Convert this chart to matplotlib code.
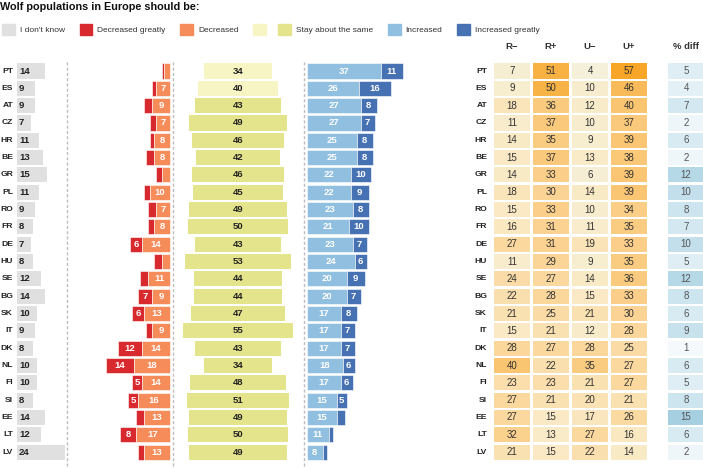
import matplotlib

matplotlib.use("Agg")
import matplotlib.pyplot as plt
from matplotlib.colors import LinearSegmentedColormap, Normalize
from matplotlib.patches import Patch

plt.rcParams["font.family"] = ["Liberation Sans", "DejaVu Sans"]

countries = ["PT", "ES", "AT", "CZ", "HR", "BE", "GR", "PL", "RO", "FR", "DE", "HU",
             "SE", "BG", "SK", "IT", "DK", "NL", "FI", "SI", "EE", "LT", "LV"]
dont_know = [14, 9, 9, 7, 11, 13, 15, 11, 9, 8, 7, 8, 12, 14, 10, 9, 8, 10, 10, 8, 14, 12, 24]
dec_greatly = [1, 2, 4, 3, 2, 4, 3, 3, 4, 3, 6, 4, 4, 7, 6, 3, 12, 14, 5, 5, 4, 8, 3]
decreased = [3, 7, 9, 7, 8, 8, 4, 10, 7, 8, 14, 4, 11, 9, 13, 9, 14, 18, 14, 16, 13, 17, 13]
same = [34, 40, 43, 49, 46, 42, 46, 45, 49, 50, 43, 53, 44, 44, 47, 55, 43, 34, 48, 51, 49, 50, 49]
increased = [37, 26, 27, 27, 25, 25, 22, 22, 23, 21, 23, 24, 20, 20, 17, 17, 17, 18, 17, 15, 15, 11, 8]
inc_greatly = [11, 16, 8, 7, 8, 8, 10, 9, 8, 10, 7, 6, 9, 7, 8, 7, 7, 6, 6, 5, 4, 2, 2]

table_headers = ["R\u2212", "R+", "U\u2212", "U+"]
r_minus = [7, 9, 18, 11, 14, 15, 14, 18, 15, 16, 27, 11, 24, 22, 21, 15, 28, 40, 23, 27, 27, 32, 21]
r_plus = [51, 50, 36, 37, 35, 37, 33, 30, 33, 31, 31, 29, 27, 28, 25, 21, 27, 22, 23, 21, 15, 13, 15]
u_minus = [4, 10, 12, 10, 9, 13, 6, 14, 10, 11, 19, 9, 14, 15, 21, 12, 28, 35, 21, 20, 17, 27, 22]
u_plus = [57, 46, 40, 37, 39, 38, 39, 39, 34, 35, 33, 35, 36, 33, 30, 28, 25, 27, 27, 21, 26, 16, 14]
pct_diff = [5, 4, 7, 2, 6, 2, 12, 10, 8, 7, 10, 5, 12, 8, 6, 9, 1, 6, 5, 8, 15, 6, 2]

C_DK = "#e0e0e0"
C_DG = "#d7292e"
C_DEC = "#f68c5a"
C_SAME_LO = "#f8f5c4"
C_SAME = "#e4e48c"
C_INC = "#90bfdf"
C_INCG = "#4671b2"
C_DASH = "#bdbdbd"

W, H = 703, 469
PX = 2.0  # pixels per percentage point
TOP, BOT = 62, 466
YLIM = (22.8, -0.52)
BAR_H = 0.87
LBL = dict(fontsize=6.8, fontweight="bold")
CTRY = dict(fontsize=6.1, fontweight="bold", color="#222222")
NUM = 7

fig = plt.figure(figsize=(W / 100, H / 100), dpi=100)
rows = list(range(len(countries)))


def bar_ax(left_px, xmin, xmax):
    ax = fig.add_axes([left_px / W, (H - BOT) / H, (xmax - xmin) * PX / W, (BOT - TOP) / H])
    ax.set_xlim(xmin, xmax)
    ax.set_ylim(*YLIM)
    ax.axis("off")
    return ax


def dashed(ax, x):
    ax.axvline(x, color=C_DASH, lw=1.0, ls=(0, (2.2, 1.6)), clip_on=False)


# --- I don't know
ax = bar_ax(16.7, 0, 25.5)
ax.barh(rows, dont_know, height=BAR_H, color=C_DK)
for i, v in enumerate(dont_know):
    ax.text(1.1, i, str(v), ha="left", va="center", color="#222222", **LBL)
    ax.text(-1.8, i, countries[i], ha="right", va="center", **CTRY)
dashed(ax, 25.15)

# --- decreased
ax = bar_ax(67.5, -51.25, 2.5)
tot_dec = [a + b for a, b in zip(dec_greatly, decreased)]
ax.barh(rows, dec_greatly, left=[-t for t in tot_dec], height=BAR_H, color=C_DG,
        edgecolor="white", linewidth=0.4)
ax.barh(rows, decreased, left=[-d for d in decreased], height=BAR_H, color=C_DEC,
        edgecolor="white", linewidth=0.4)
for i in rows:
    if dec_greatly[i] >= 5:
        ax.text(-decreased[i] - dec_greatly[i] / 2, i, str(dec_greatly[i]), ha="center",
                va="center", color="white", **LBL)
    if decreased[i] >= 5:
        ax.text(-decreased[i] / 2, i, str(decreased[i]), ha="center", va="center",
                color="white", **LBL)
dashed(ax, 1.35)

# --- stay about the same
ax = bar_ax(174.3, -32, 32)
tot_inc = [a + b for a, b in zip(increased, inc_greatly)]
same_cols = [C_SAME_LO if s < t else C_SAME for s, t in zip(same, tot_inc)]
ax.barh(rows, same, left=[-s / 2 for s in same], height=BAR_H, color=same_cols)
for i, v in enumerate(same):
    ax.text(0, i, str(v), ha="center", va="center", color="#222222", **LBL)

# --- increased
ax = bar_ax(302, -2.35, 86.6)
ax.barh(rows, increased, height=BAR_H, color=C_INC, edgecolor="white", linewidth=0.4)
ax.barh(rows, inc_greatly, left=increased, height=BAR_H, color=C_INCG,
        edgecolor="white", linewidth=0.4)
for i in rows:
    ax.text(increased[i] / 2, i, str(increased[i]), ha="center", va="center",
            color="white", **LBL)
    if inc_greatly[i] >= 5:
        ax.text(increased[i] + inc_greatly[i] / 2, i, str(inc_greatly[i]), ha="center",
                va="center", color="white", **LBL)
dashed(ax, -1.35)

# --- R/U table
cmap_o = LinearSegmentedColormap.from_list(
    "oranges", ["#f2f2e0", "#fae9c4", "#fbd495", "#f9bd5e", "#f7a11a"])
norm_o = Normalize(0, 60)
cmap_b = LinearSegmentedColormap.from_list("blues", ["#fafcfd", "#a3cfe1"])
norm_b = Normalize(0, 15.5)

CELL_W = 36 / 39
ax = fig.add_axes([492.5 / W, (H - BOT) / H, 156 / W, (BOT - TOP) / H])
ax.set_xlim(-0.5, 3.5)
ax.set_ylim(*YLIM)
ax.axis("off")
for j, (hdr, col) in enumerate(zip(table_headers, [r_minus, r_plus, u_minus, u_plus])):
    ax.barh(rows, [CELL_W] * len(rows), left=j - CELL_W / 2, height=BAR_H,
            color=[cmap_o(norm_o(v)) for v in col])
    for i, v in enumerate(col):
        ax.text(j, i, str(v), ha="center", va="center", fontsize=NUM, color="#333333")
    ax.text(j, -1.39, hdr, ha="center", va="center", color="#333333", **LBL)
for i, c in enumerate(countries):
    ax.text(-0.64, i, c, ha="right", va="center", **CTRY)

ax = fig.add_axes([666.5 / W, (H - BOT) / H, 39 / W, (BOT - TOP) / H])
ax.set_xlim(-0.5, 0.5)
ax.set_ylim(*YLIM)
ax.axis("off")
ax.barh(rows, [CELL_W] * len(rows), left=-CELL_W / 2, height=BAR_H,
        color=[cmap_b(norm_b(v)) for v in pct_diff])
for i, v in enumerate(pct_diff):
    ax.text(0, i, str(v), ha="center", va="center", fontsize=NUM, color="#555555")
ax.text(0, -1.39, "% diff", ha="center", va="center", color="#333333", **LBL)

# --- title and legend
fig.text(0.5 / W, 1 - 10 / H, "Wolf populations in Europe should be:", ha="left",
         va="baseline", fontsize=7.8, fontweight="bold", color="#111111")

leg_kw = dict(loc="center left", frameon=False, fontsize=6, borderpad=0, borderaxespad=0,
              handlelength=1.55, handleheight=1.55, handletextpad=0.6, columnspacing=1.75,
              labelcolor="#333333")
fig.legend([Patch(color=c) for c in [C_DK, C_DG, C_DEC, C_SAME_LO]],
           ["I don't know", "Decreased greatly", "Decreased", ""],
           bbox_to_anchor=(2 / W, 1 - 29.5 / H), ncol=4, **leg_kw)
fig.legend([Patch(color=c) for c in [C_SAME, C_INC, C_INCG]],
           ["Stay about the same", "Increased", "Increased greatly"],
           bbox_to_anchor=(278 / W, 1 - 29.5 / H), ncol=3, **leg_kw)

fig.savefig("out.png", dpi=100)
